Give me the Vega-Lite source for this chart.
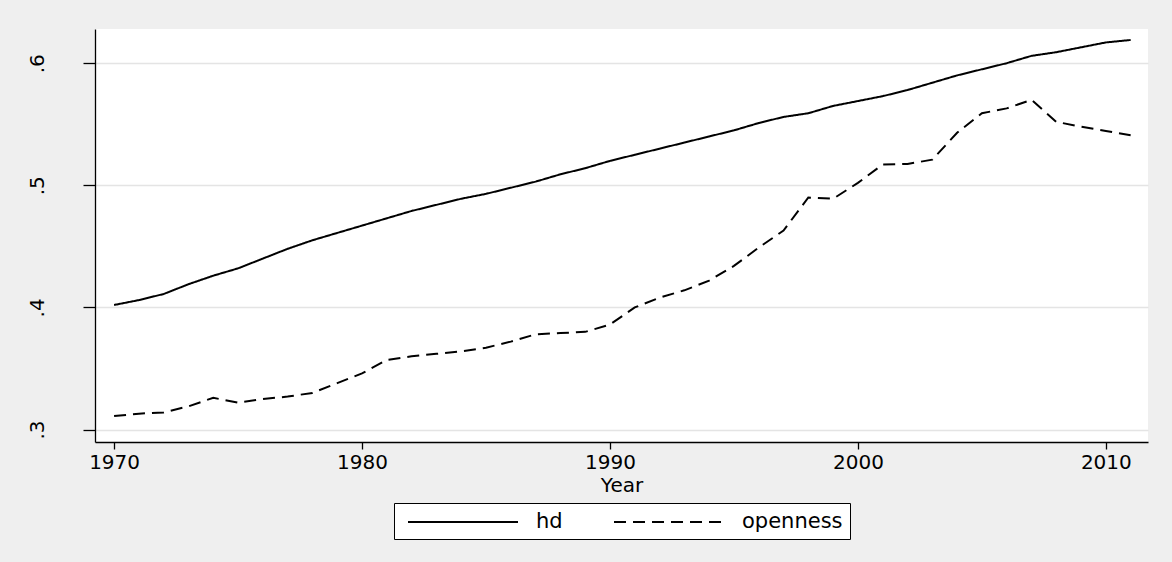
{
  "$schema": "https://vega.github.io/schema/vega-lite/v6.json",
  "width": 1053,
  "height": 413,
  "autosize": {"type": "none"},
  "padding": {"left": 95, "top": 29, "right": 24, "bottom": 120},
  "background": "#efefef",
  "data": {
    "values": [
      {"year": 1970, "series": "hd", "value": 0.402},
      {"year": 1971, "series": "hd", "value": 0.406},
      {"year": 1972, "series": "hd", "value": 0.411},
      {"year": 1973, "series": "hd", "value": 0.419},
      {"year": 1974, "series": "hd", "value": 0.426},
      {"year": 1975, "series": "hd", "value": 0.432},
      {"year": 1976, "series": "hd", "value": 0.440},
      {"year": 1977, "series": "hd", "value": 0.448},
      {"year": 1978, "series": "hd", "value": 0.455},
      {"year": 1979, "series": "hd", "value": 0.461},
      {"year": 1980, "series": "hd", "value": 0.467},
      {"year": 1981, "series": "hd", "value": 0.473},
      {"year": 1982, "series": "hd", "value": 0.479},
      {"year": 1983, "series": "hd", "value": 0.484},
      {"year": 1984, "series": "hd", "value": 0.489},
      {"year": 1985, "series": "hd", "value": 0.493},
      {"year": 1986, "series": "hd", "value": 0.498},
      {"year": 1987, "series": "hd", "value": 0.503},
      {"year": 1988, "series": "hd", "value": 0.509},
      {"year": 1989, "series": "hd", "value": 0.514},
      {"year": 1990, "series": "hd", "value": 0.520},
      {"year": 1991, "series": "hd", "value": 0.525},
      {"year": 1992, "series": "hd", "value": 0.530},
      {"year": 1993, "series": "hd", "value": 0.535},
      {"year": 1994, "series": "hd", "value": 0.540},
      {"year": 1995, "series": "hd", "value": 0.545},
      {"year": 1996, "series": "hd", "value": 0.551},
      {"year": 1997, "series": "hd", "value": 0.556},
      {"year": 1998, "series": "hd", "value": 0.559},
      {"year": 1999, "series": "hd", "value": 0.565},
      {"year": 2000, "series": "hd", "value": 0.569},
      {"year": 2001, "series": "hd", "value": 0.573},
      {"year": 2002, "series": "hd", "value": 0.578},
      {"year": 2003, "series": "hd", "value": 0.584},
      {"year": 2004, "series": "hd", "value": 0.590},
      {"year": 2005, "series": "hd", "value": 0.595},
      {"year": 2006, "series": "hd", "value": 0.600},
      {"year": 2007, "series": "hd", "value": 0.606},
      {"year": 2008, "series": "hd", "value": 0.609},
      {"year": 2009, "series": "hd", "value": 0.613},
      {"year": 2010, "series": "hd", "value": 0.617},
      {"year": 2011, "series": "hd", "value": 0.619},
      {"year": 1970, "series": "openness", "value": 0.311},
      {"year": 1971, "series": "openness", "value": 0.313},
      {"year": 1972, "series": "openness", "value": 0.314},
      {"year": 1973, "series": "openness", "value": 0.319},
      {"year": 1974, "series": "openness", "value": 0.326},
      {"year": 1975, "series": "openness", "value": 0.322},
      {"year": 1976, "series": "openness", "value": 0.325},
      {"year": 1977, "series": "openness", "value": 0.327},
      {"year": 1978, "series": "openness", "value": 0.330},
      {"year": 1979, "series": "openness", "value": 0.338},
      {"year": 1980, "series": "openness", "value": 0.346},
      {"year": 1981, "series": "openness", "value": 0.357},
      {"year": 1982, "series": "openness", "value": 0.360},
      {"year": 1983, "series": "openness", "value": 0.362},
      {"year": 1984, "series": "openness", "value": 0.364},
      {"year": 1985, "series": "openness", "value": 0.367},
      {"year": 1986, "series": "openness", "value": 0.372},
      {"year": 1987, "series": "openness", "value": 0.378},
      {"year": 1988, "series": "openness", "value": 0.379},
      {"year": 1989, "series": "openness", "value": 0.380},
      {"year": 1990, "series": "openness", "value": 0.386},
      {"year": 1991, "series": "openness", "value": 0.400},
      {"year": 1992, "series": "openness", "value": 0.408},
      {"year": 1993, "series": "openness", "value": 0.414},
      {"year": 1994, "series": "openness", "value": 0.422},
      {"year": 1995, "series": "openness", "value": 0.434},
      {"year": 1996, "series": "openness", "value": 0.449},
      {"year": 1997, "series": "openness", "value": 0.463},
      {"year": 1998, "series": "openness", "value": 0.490},
      {"year": 1999, "series": "openness", "value": 0.489},
      {"year": 2000, "series": "openness", "value": 0.502},
      {"year": 2001, "series": "openness", "value": 0.517},
      {"year": 2002, "series": "openness", "value": 0.5175},
      {"year": 2003, "series": "openness", "value": 0.521},
      {"year": 2004, "series": "openness", "value": 0.543},
      {"year": 2005, "series": "openness", "value": 0.559},
      {"year": 2006, "series": "openness", "value": 0.563},
      {"year": 2007, "series": "openness", "value": 0.570},
      {"year": 2008, "series": "openness", "value": 0.552},
      {"year": 2009, "series": "openness", "value": 0.548},
      {"year": 2010, "series": "openness", "value": 0.5445},
      {"year": 2011, "series": "openness", "value": 0.541}
    ]
  },
  "mark": {"type": "line", "strokeWidth": 2, "color": "black"},
  "encoding": {
    "x": {
      "field": "year",
      "type": "quantitative",
      "scale": {"domain": [1969.23, 2011.7], "nice": false, "zero": false},
      "axis": {
        "values": [1970, 1980, 1990, 2000, 2010],
        "format": "d",
        "title": "Year",
        "grid": false,
        "tickSize": 7,
        "labelPadding": 3,
        "titlePadding": 3
      }
    },
    "y": {
      "field": "value",
      "type": "quantitative",
      "scale": {"domain": [0.2898, 0.628], "nice": false, "zero": false},
      "axis": {
        "values": [0.3, 0.4, 0.5, 0.6],
        "labelExpr": "replace(format(datum.value, '.1f'), '0.', '.')",
        "title": null,
        "grid": true,
        "gridColor": "#e4e4e4",
        "gridWidth": 1.5,
        "tickSize": 12,
        "labelAngle": -90,
        "labelAlign": "center",
        "labelBaseline": "bottom",
        "labelPadding": 36
      }
    },
    "strokeDash": {
      "field": "series",
      "type": "nominal",
      "scale": {"domain": ["hd", "openness"], "range": [[1, 0], [12, 7]]},
      "legend": {
        "orient": "bottom",
        "direction": "horizontal",
        "title": null,
        "symbolType": "M-5,0H5",
        "symbolSize": 484,
        "symbolOffset": 50,
        "symbolStrokeWidth": 2,
        "symbolStrokeColor": "black",
        "labelFont": "DejaVu Sans",
        "labelFontSize": 21,
        "labelColor": "black",
        "labelOffset": 61,
        "columnPadding": 44,
        "fillColor": "white",
        "strokeColor": "black",
        "padding": 7,
        "offset": 8
      }
    }
  },
  "config": {
    "view": {"fill": "white", "stroke": null},
    "axis": {
      "domainColor": "black",
      "domainWidth": 1.3,
      "tickColor": "black",
      "tickWidth": 1.3,
      "labelColor": "black",
      "labelFont": "DejaVu Sans",
      "labelFontSize": 20,
      "titleFont": "DejaVu Sans",
      "titleFontSize": 20,
      "titleFontWeight": "normal",
      "titleColor": "black"
    },
    "legend": {
      "layout": {"bottom": {"anchor": "middle"}}
    }
  }
}
